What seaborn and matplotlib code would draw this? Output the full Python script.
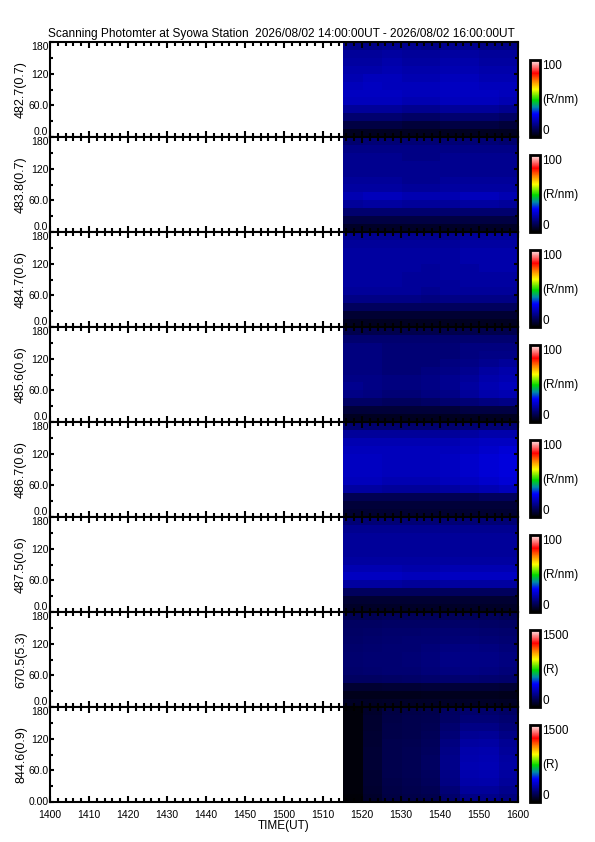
import matplotlib
matplotlib.use("Agg")
import matplotlib.pyplot as plt
import numpy as np
import pandas as pd
import seaborn as sns
from matplotlib.colors import LinearSegmentedColormap
from matplotlib.ticker import FixedLocator, MultipleLocator

# ---------------- data ----------------
title = "Scanning Photomter at Syowa Station  2026/08/02 14:00:00UT - 2026/08/02 16:00:00UT"
channels = ["482.7(0.7)", "483.8(0.7)", "484.7(0.6)", "485.6(0.6)",
            "486.7(0.6)", "487.5(0.6)", "670.5(5.3)", "844.6(0.9)"]
units = ["(R/nm)", "(R/nm)", "(R/nm)", "(R/nm)", "(R/nm)", "(R/nm)", "(R)", "(R)"]
vmaxes = [100, 100, 100, 100, 100, 100, 1500, 1500]
x_tick_labels = ["1400", "1410", "1420", "1430", "1440", "1450", "1500",
                 "1510", "1520", "1530", "1540", "1550", "1600"]
y_tick_values = [0, 60, 120, 180]
y_tick_labels = ["0.0", "60.0", "120", "180"]
# scan elevation bins (deg), listed from top (180) to bottom (0)
elev_bins = ["180-165", "165-150", "150-135", "135-120", "120-105", "105-90",
             "90-75", "75-60", "60-45", "45-30", "30-15", "15-0"]
# time columns (UT) of the measured block
time_cols = ["1515", "1520", "1525", "1530", "1535", "1540", "1545", "1550", "1555"]
data_start_min = 75.2   # minutes after 14:00 UT where data begins
data_end_min = 120.0

ch482_7 = [
    [16, 16, 17, 17, 16, 17, 17, 16, 16],
    [18, 18, 19, 18, 18, 19, 19, 18, 18],
    [19, 19, 20, 19, 19, 20, 20, 19, 19],
    [20, 20, 21, 20, 20, 21, 21, 20, 20],
    [21, 22, 22, 21, 21, 22, 22, 21, 21],
    [22, 23, 22, 22, 22, 23, 23, 22, 22],
    [23, 23, 23, 22, 22, 23, 23, 23, 22],
    [22, 22, 22, 21, 21, 22, 22, 22, 21],
    [18, 18, 18, 17, 17, 18, 18, 18, 17],
    [13, 13, 13, 12, 12, 13, 13, 13, 12],
    [8, 8, 8, 7, 7, 8, 8, 8, 7],
    [4, 4, 4, 4, 4, 4, 4, 4, 4],
]
ch483_8 = [
    [13, 14, 14, 14, 14, 14, 14, 14, 13],
    [16, 16, 16, 16, 16, 16, 16, 16, 16],
    [17, 17, 17, 16, 16, 17, 17, 17, 17],
    [17, 17, 17, 17, 17, 17, 17, 17, 17],
    [17, 17, 17, 17, 17, 17, 17, 17, 17],
    [18, 18, 18, 17, 17, 18, 18, 18, 18],
    [19, 19, 19, 18, 18, 19, 19, 19, 19],
    [21, 22, 22, 21, 21, 21, 22, 22, 21],
    [18, 19, 19, 18, 18, 18, 19, 19, 18],
    [13, 13, 13, 13, 13, 13, 13, 13, 13],
    [8, 8, 8, 8, 8, 8, 8, 8, 8],
    [5, 5, 5, 5, 5, 5, 5, 5, 5],
]
ch484_7 = [
    [17, 17, 17, 17, 17, 17, 18, 18, 18],
    [18, 18, 18, 18, 18, 18, 19, 19, 19],
    [19, 19, 19, 19, 19, 19, 20, 20, 20],
    [19, 19, 19, 19, 19, 19, 20, 20, 20],
    [19, 19, 19, 19, 18, 19, 19, 20, 20],
    [19, 19, 19, 18, 18, 19, 19, 19, 19],
    [19, 19, 19, 18, 18, 18, 19, 19, 19],
    [18, 18, 18, 18, 17, 18, 18, 18, 18],
    [16, 16, 16, 16, 15, 16, 16, 16, 16],
    [11, 11, 11, 11, 11, 11, 11, 11, 11],
    [6, 6, 6, 6, 6, 6, 6, 6, 6],
    [4, 4, 4, 4, 4, 4, 4, 4, 4],
]
ch485_6 = [
    [9, 9, 9, 9, 9, 9, 9, 9, 9],
    [13, 13, 13, 13, 13, 13, 13, 13, 13],
    [15, 15, 14, 14, 14, 14, 15, 15, 15],
    [15, 15, 14, 14, 14, 14, 15, 16, 16],
    [15, 15, 14, 14, 14, 15, 16, 17, 18],
    [15, 15, 14, 14, 15, 16, 17, 19, 20],
    [16, 16, 15, 15, 16, 17, 18, 20, 21],
    [17, 16, 15, 15, 16, 17, 19, 21, 22],
    [16, 15, 14, 14, 15, 16, 18, 20, 21],
    [12, 12, 11, 11, 12, 13, 14, 15, 16],
    [7, 7, 7, 7, 7, 7, 8, 8, 8],
    [4, 4, 4, 4, 4, 4, 4, 4, 4],
]
ch486_7 = [
    [13, 13, 13, 13, 13, 13, 14, 14, 14],
    [18, 18, 18, 18, 18, 18, 19, 20, 20],
    [21, 21, 21, 21, 21, 21, 22, 23, 23],
    [22, 22, 22, 22, 22, 22, 23, 24, 25],
    [23, 23, 22, 22, 22, 23, 24, 25, 26],
    [23, 23, 22, 22, 22, 23, 24, 25, 26],
    [23, 23, 22, 22, 22, 23, 24, 25, 26],
    [22, 22, 21, 21, 21, 22, 23, 24, 25],
    [19, 19, 18, 18, 18, 19, 20, 21, 22],
    [10, 10, 10, 10, 10, 10, 10, 11, 11],
    [7, 7, 7, 7, 7, 7, 7, 7, 7],
    [6, 6, 6, 6, 6, 6, 6, 6, 6],
]
ch487_5 = [
    [14, 14, 14, 14, 14, 14, 14, 14, 14],
    [17, 17, 17, 17, 17, 17, 17, 17, 17],
    [18, 18, 18, 18, 18, 18, 18, 18, 18],
    [18, 18, 18, 18, 18, 18, 18, 18, 18],
    [18, 18, 18, 18, 18, 18, 18, 18, 18],
    [19, 19, 19, 19, 19, 19, 19, 19, 19],
    [21, 21, 21, 20, 20, 21, 21, 21, 21],
    [23, 23, 23, 22, 22, 23, 23, 23, 23],
    [19, 19, 19, 18, 18, 19, 19, 19, 19],
    [11, 11, 11, 11, 11, 11, 11, 11, 11],
    [6, 6, 6, 6, 6, 6, 6, 6, 6],
    [5, 5, 5, 5, 5, 5, 5, 5, 5],
]
ch670_5 = [
    [150, 150, 160, 160, 160, 160, 160, 160, 150],
    [170, 175, 180, 180, 180, 185, 185, 180, 175],
    [180, 185, 190, 190, 195, 200, 200, 195, 190],
    [185, 190, 195, 200, 205, 210, 215, 210, 200],
    [190, 195, 200, 205, 215, 225, 230, 225, 215],
    [195, 200, 205, 210, 220, 235, 240, 235, 225],
    [195, 200, 205, 210, 220, 235, 240, 235, 225],
    [190, 195, 200, 205, 215, 225, 230, 225, 215],
    [170, 175, 180, 185, 190, 195, 200, 195, 190],
    [90, 90, 95, 95, 100, 100, 105, 100, 95],
    [50, 50, 50, 50, 55, 55, 55, 55, 50],
    [70, 70, 75, 75, 75, 75, 75, 75, 70],
]
ch844_6 = [
    [20, 80, 120, 130, 140, 170, 190, 190, 180],
    [20, 85, 125, 135, 145, 180, 210, 210, 195],
    [20, 85, 130, 140, 150, 195, 235, 235, 215],
    [20, 90, 130, 140, 155, 210, 260, 265, 240],
    [20, 90, 135, 145, 160, 225, 285, 290, 260],
    [20, 95, 135, 150, 165, 240, 300, 305, 275],
    [20, 95, 140, 150, 170, 245, 310, 315, 285],
    [20, 95, 140, 150, 170, 245, 315, 320, 290],
    [20, 90, 135, 150, 165, 240, 310, 315, 285],
    [20, 90, 130, 145, 160, 230, 295, 300, 270],
    [20, 85, 125, 140, 150, 210, 270, 275, 250],
    [15, 80, 120, 130, 140, 190, 240, 245, 225],
]
panels = [ch482_7, ch483_8, ch484_7, ch485_6, ch486_7, ch487_5, ch670_5, ch844_6]

# ---------------- style ----------------
sns.set_theme(style="ticks")
plt.rcParams["font.family"] = ["Liberation Sans", "DejaVu Sans"]

cmap = LinearSegmentedColormap.from_list("rainbow_white", [
    (0.00, (0.0, 0.0, 0.0)),
    (0.30, (0.0, 0.0, 1.0)),
    (0.39, (0.0, 0.55, 0.65)),
    (0.48, (0.0, 0.85, 0.0)),
    (0.62, (1.0, 1.0, 0.0)),
    (0.72, (1.0, 0.55, 0.0)),
    (0.83, (1.0, 0.0, 0.0)),
    (0.92, (1.0, 0.5, 0.5)),
    (1.00, (1.0, 0.93, 0.93)),
])

W, H = 595, 842
fig = plt.figure(figsize=(W / 100, H / 100), dpi=100)
fig.patch.set_facecolor("white")

left_px, right_px, top_px, ph = 50, 518, 42, 95
lw = 1.5

for i, (name, grid) in enumerate(zip(channels, panels)):
    y0 = 1 - (top_px + (i + 1) * ph) / H
    ax = fig.add_axes([left_px / W, y0, (right_px - left_px) / W, ph / H])
    ax.set_facecolor("white")
    ax.set_xlim(0, 120)
    ax.set_ylim(0, 180)
    ax.set_axisbelow(False)
    for s in ax.spines.values():
        s.set_visible(True)
        s.set_linewidth(lw)
        s.set_color("black")

    df = pd.DataFrame(grid, index=elev_bins, columns=time_cols)
    hax = ax.inset_axes([data_start_min, 0, data_end_min - data_start_min, 180],
                        transform=ax.transData, zorder=1)
    cax = fig.add_axes([530 / W, y0, 10 / W, 77 / H])
    vmax = vmaxes[i]
    sns.heatmap(df, ax=hax, cmap=cmap, vmin=0, vmax=vmax, cbar_ax=cax,
                xticklabels=False, yticklabels=False)
    hax.set_axis_off()

    cb = hax.collections[0].colorbar
    cb.outline.set_linewidth(2)
    cb.outline.set_edgecolor("black")
    cb.set_ticks([0, vmax / 2, vmax])
    cb.set_ticklabels(["0", units[i], str(vmax)])
    cax.tick_params(length=0, pad=1.5, labelsize=8.5, colors="black")
    tl = cax.get_yticklabels()
    tl[0].set_va("bottom")
    tl[2].set_va("top")

    # x ticks
    ax.xaxis.set_major_locator(MultipleLocator(10))
    ax.xaxis.set_minor_locator(MultipleLocator(2))
    ax.tick_params(axis="x", which="both", direction="in", top=True, bottom=True,
                   width=lw, color="black")
    ax.tick_params(axis="x", which="major", length=4.5)
    ax.tick_params(axis="x", which="minor", length=3.0)
    # y ticks
    ax.yaxis.set_major_locator(FixedLocator(y_tick_values))
    ax.yaxis.set_minor_locator(FixedLocator([30, 90, 150]))
    ax.tick_params(axis="y", which="both", direction="in", left=True, right=True,
                   width=lw, color="black", pad=1.2, labelsize=7.5, labelcolor="black")
    ax.tick_params(axis="y", which="major", length=3.0)
    ax.tick_params(axis="y", which="minor", length=2.2)
    ylabs = list(y_tick_labels)
    if i == len(channels) - 1:
        ylabs[0] = "0.00"
    ax.set_yticklabels(ylabs)
    yl = ax.get_yticklabels()
    yl[0].set_va("center" if i == len(channels) - 1 else "bottom")
    yl[3].set_va("top")

    ax.set_ylabel(name, fontsize=9, color="black")
    ax.yaxis.set_label_coords(-0.049, 0.5)

    if i == len(channels) - 1:
        ax.set_xticks(np.arange(0, 121, 10))
        ax.set_xticklabels(x_tick_labels)
        ax.tick_params(axis="x", labelsize=7.5, pad=5.5, labelcolor="black")
        ax.set_xlabel("TIME(UT)", fontsize=8.5, color="black", labelpad=0.5)
    else:
        ax.tick_params(axis="x", labelbottom=False)

fig.text(48 / W, 1 - 37.5 / H, title, fontsize=8.6, va="baseline", ha="left",
         color="black")

fig.savefig("out.png", dpi=100, facecolor="white")
